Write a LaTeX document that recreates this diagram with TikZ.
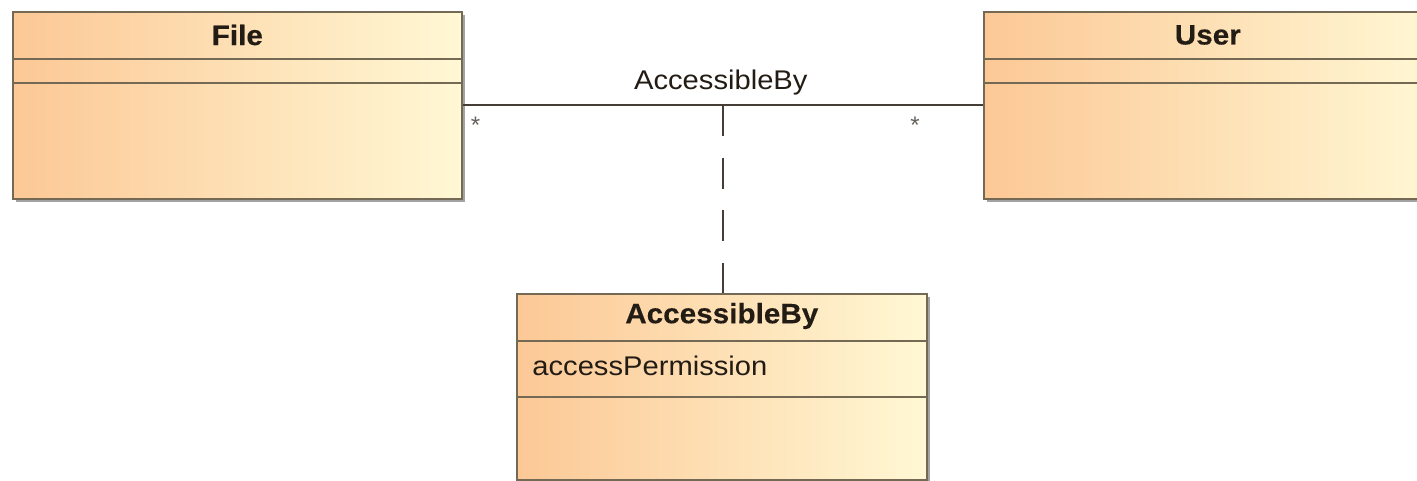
\documentclass[tikz,border=0pt]{standalone}
\usepackage{fontspec}
\setmainfont{Liberation Sans}
\newfontfamily\widesans[FakeStretch=1.08]{Liberation Sans}
\newfontfamily\widebold[FakeStretch=1.06,FakeBold=0.3]{Liberation Sans Bold}
\usetikzlibrary{shadows,calc}
\definecolor{peach}{RGB}{252,200,150}
\definecolor{cream}{RGB}{255,248,212}
\definecolor{edge}{RGB}{115,105,85}
\definecolor{ink}{RGB}{35,28,20}
\tikzset{
  classbox/.style={draw=edge, line width=0.8pt, left color=peach, right color=cream,
    anchor=north west, inner sep=0pt,
    drop shadow={shadow xshift=1.6pt, shadow yshift=-1.6pt, fill=black!45, opacity=0.8}},
  divider/.style={draw=edge, line width=0.8pt},
  title/.style={font=\widebold\fontsize{14}{16}\selectfont, text=ink, inner sep=0pt},
  attr/.style={font=\widesans\fontsize{13.5}{16}\selectfont, text=ink, inner sep=0pt, anchor=west},
  assoc/.style={draw=ink!85, line width=0.9pt},
  dashedlink/.style={draw=ink!85, line width=0.9pt, dash pattern=on 15.5pt off 10.75pt},
  mult/.style={font=\fontsize{12}{12}\selectfont, text=ink!70, inner sep=0pt},
  lbl/.style={font=\widesans\fontsize{13.5}{16}\selectfont, text=ink, inner sep=0pt, anchor=base}
}
\begin{document}
\begin{tikzpicture}
\useasboundingbox (0,0) rectangle (708.5pt,-240.5pt);
\fill[white] (0,0) rectangle (708.5pt,-240.5pt);
% class boxes
\node[classbox, minimum width=224.5pt, minimum height=93.5pt] (file) at (6pt,-5.5pt) {};
\node[classbox, minimum width=226pt, minimum height=93.5pt] (user) at (491.5pt,-5.5pt) {};
\node[classbox, minimum width=205pt, minimum height=93pt] (ab) at (258pt,-146.5pt) {};
% compartments
\draw[divider] ([yshift=-24pt]file.north west) -- ([yshift=-24pt]file.north east);
\draw[divider] ([yshift=-36pt]file.north west) -- ([yshift=-36pt]file.north east);
\draw[divider] ([yshift=-24pt]user.north west) -- ([yshift=-24pt]user.north east);
\draw[divider] ([yshift=-36pt]user.north west) -- ([yshift=-36pt]user.north east);
\draw[divider] ([yshift=-24pt]ab.north west) -- ([yshift=-24pt]ab.north east);
\draw[divider] ([yshift=-52pt]ab.north west) -- ([yshift=-52pt]ab.north east);
% titles
\node[title] (fileT) at ([yshift=-12pt]file.north) {File};
\node[title] (userT) at ([xshift=-1pt,yshift=-12pt]user.north) {User};
\node[title] (abT) at ([yshift=-11.5pt]ab.north) {AccessibleBy};
\node[attr] (perm) at ([xshift=8pt,yshift=-36.5pt]ab.north west) {accessPermission};
% association
\coordinate (fa) at ([yshift=-47pt]file.north east);
\coordinate (ua) at ([yshift=-47pt]user.north west);
\draw[assoc] (fa) -- (ua);
\coordinate (mid) at ($(fa)!0.5!(ua)$);
\node[lbl] (assocL) at ([xshift=-1pt,yshift=7.5pt]mid) {AccessibleBy};
\node[mult] (m1) at ([xshift=6.5pt,yshift=-10pt]fa) {*};
\node[mult] (m2) at ([xshift=-34pt,yshift=-10pt]ua) {*};
\draw[dashedlink] (mid) -- (mid |- ab.north);
\end{tikzpicture}
\end{document}
